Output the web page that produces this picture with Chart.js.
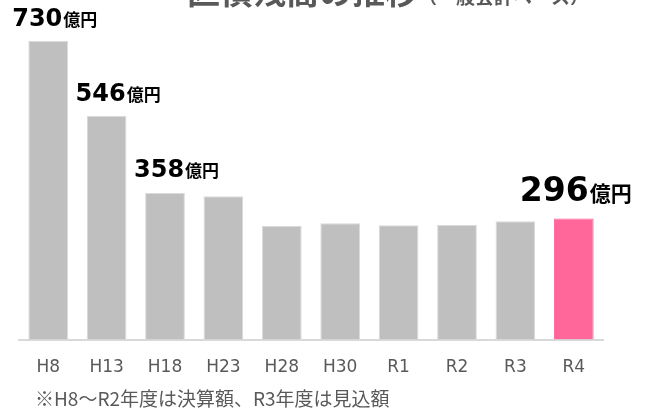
<!DOCTYPE html>
<html lang="ja">
<head>
<meta charset="utf-8">
<script src="https://cdn.jsdelivr.net/npm/chart.js@4/dist/chart.umd.min.js"></script>
<style>
  body { margin: 0; background: #fff; }
  #wrap { width: 645px; height: 412px; }
</style>
</head>
<body>
<div id="wrap"><canvas id="debtChart" width="645" height="412"></canvas></div>
<script>
// 区債残高（億円）
const years = ['H8', 'H13', 'H18', 'H23', 'H28', 'H30', 'R1', 'R2', 'R3', 'R4'];
const balance = [730, 546, 358, 350, 278, 284, 279, 280, 289, 296];
const labelledYears = ['H8', 'H13', 'H18', 'R4'];
const yMax = 800;

const titleMain = '区債残高の推移';
const titleSub = '（一般会計ベース）';
const footnote = '※H8～R2年度は決算額、R3年度は見込額';

const barColors = years.map(y => y === 'R4' ? '#ff6699' : '#bfbfbf');
const edgeColors = years.map(y => y === 'R4' ? '#ff6699' : '#dadada');

// value label placement: [dx from bar centre, dy from bar top, number size, unit size]
const labelStyle = {
  H8: [-36, -15, 24, 17],
  H13: [-31, -15, 24, 17],
  H18: [-31, -16, 24, 17],
  R4: [-54, -17, 33, 21]
};

const textPlugin = {
  id: 'texts',
  afterDatasetsDraw(chart) {
    const ctx = chart.ctx;
    const meta = chart.getDatasetMeta(0);
    ctx.save();
    ctx.textBaseline = 'alphabetic';
    ctx.textAlign = 'left';

    // title, only its lower part fits on the canvas
    ctx.fillStyle = '#595959';
    ctx.font = 'bold 33px "Noto Sans CJK JP"';
    ctx.fillText(titleMain, 187, 4);
    const w = ctx.measureText(titleMain).width;
    ctx.font = 'bold 19px "Noto Sans CJK JP"';
    ctx.fillText(titleSub, 187 + w, 4);

    // values above the bars
    ctx.fillStyle = '#000';
    labelledYears.forEach(y => {
      const i = years.indexOf(y);
      const bar = meta.data[i];
      const s = labelStyle[y];
      const x = bar.x + s[0];
      const base = bar.y + s[1];
      ctx.font = 'bold ' + s[2] + 'px "DejaVu Sans"';
      const num = String(balance[i]);
      ctx.fillText(num, x, base);
      const nw = ctx.measureText(num).width;
      ctx.font = 'bold ' + s[3] + 'px "Noto Sans CJK JP"';
      ctx.fillText('億円', x + nw + 1, base);
    });

    // note under the axis
    ctx.fillStyle = '#595959';
    ctx.font = '19px "Noto Sans CJK JP"';
    ctx.fillText(footnote, 35, 406);
    ctx.restore();
  }
};

const data = {
  labels: years,
  datasets: [{
    data: balance,
    backgroundColor: barColors,
    borderColor: edgeColors,
    borderWidth: 1,
    barPercentage: 0.68,
    categoryPercentage: 1
  }]
};

const options = {
  type: 'bar',
  data,
  options: {
    responsive: false,
    animation: false,
    layout: {
      padding: { left: 19, right: 42, top: 12, bottom: 16 }
    },
    plugins: {
      legend: { display: false },
      tooltip: { enabled: false }
    },
    scales: {
      x: {
        grid: { display: false, drawTicks: false },
        border: { display: true, color: '#d9d9d9', width: 2 },
        ticks: {
          color: '#595959',
          padding: 18,
          font: { family: 'DejaVu Sans', size: 17 }
        }
      },
      y: {
        display: false,
        min: 0,
        max: yMax
      }
    }
  },
  plugins: [textPlugin]
};

let debtChart = new Chart(document.getElementById('debtChart'), options);
</script>
</body>
</html>
